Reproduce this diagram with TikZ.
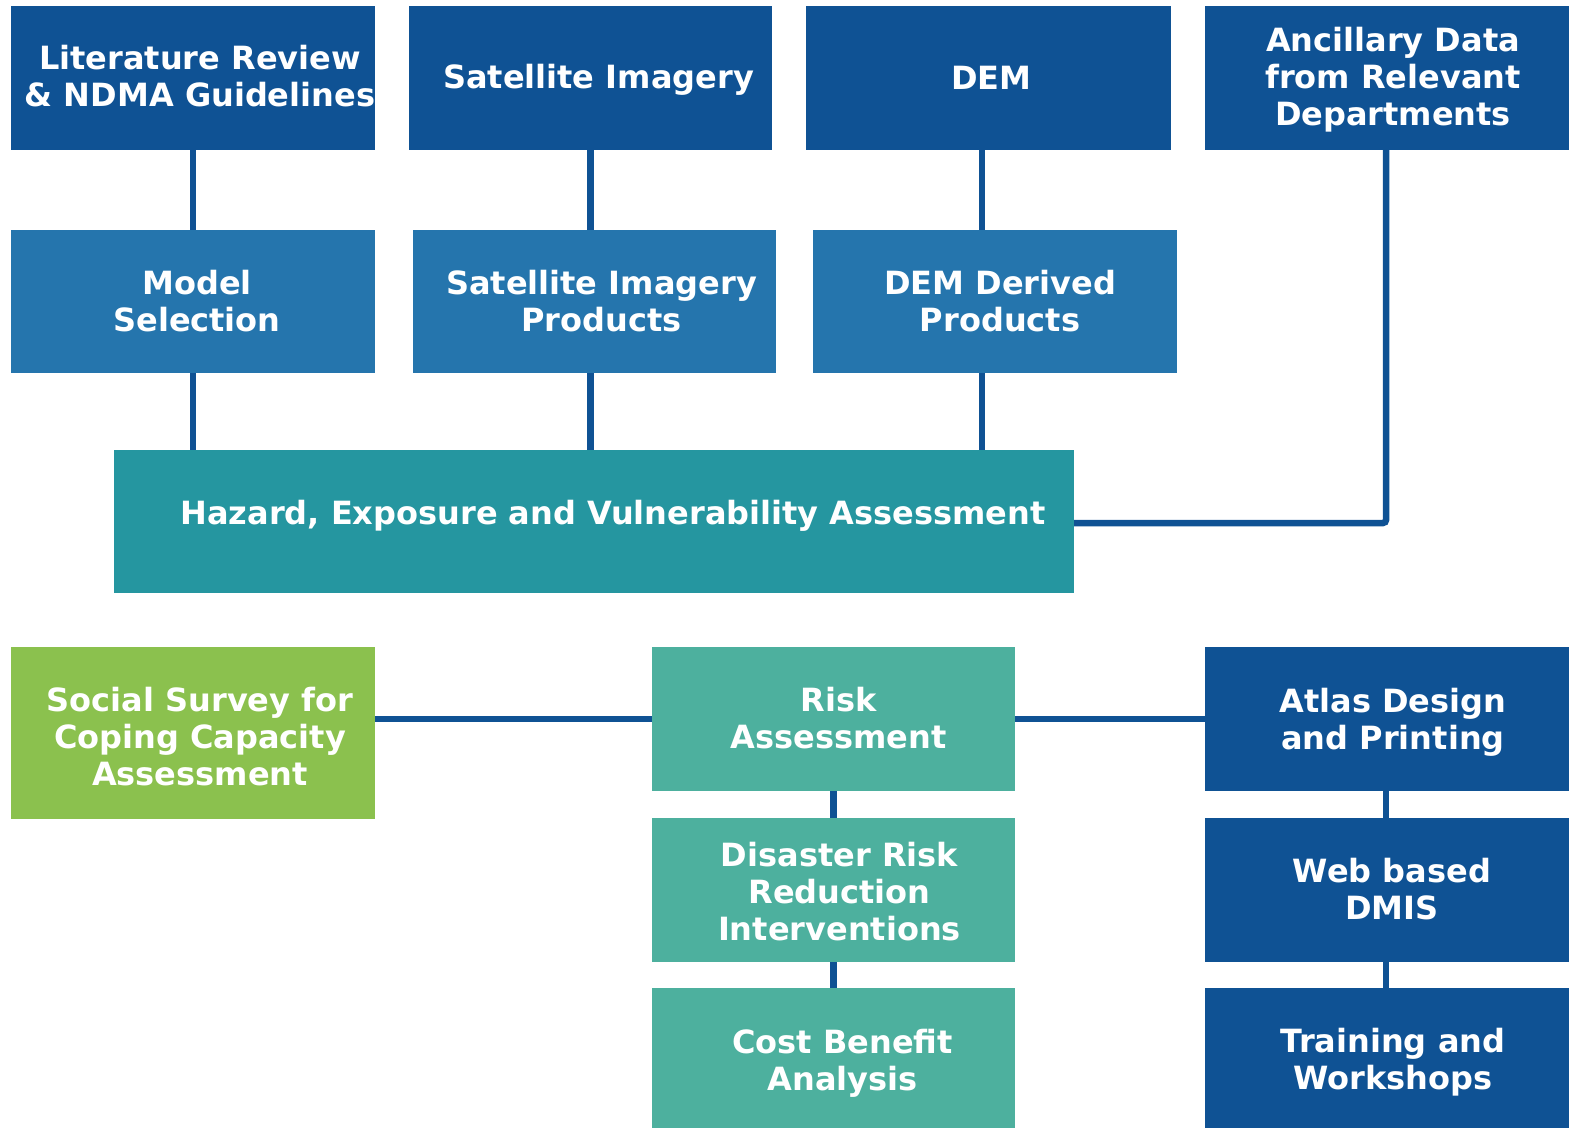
\documentclass[tikz,border=0pt]{standalone}
\usepackage{fontspec}
\setmainfont{DejaVu Sans}
\usetikzlibrary{calc}
\definecolor{navy}{HTML}{0F5294}
\definecolor{midblue}{HTML}{2575AD}
\definecolor{teal}{HTML}{2596A0}
\definecolor{seagreen}{HTML}{4DB09E}
\definecolor{leaf}{HTML}{8BC14E}
\begin{document}
\begin{tikzpicture}[x=1pt,y=-1pt,
  box/.style={inner sep=0pt, outer sep=0pt, minimum width=#1},
  box/.default=364pt,
  txt/.style={inner sep=0pt, align=center, text=white,
    font=\fontsize{32}{37}\selectfont\bfseries},
  link/.style={draw=navy, line width=6.5pt, line cap=butt}]
\useasboundingbox (0,0) rectangle (1569,1128);

% inputs
\node[box, fill=navy, minimum height=144pt] (lit) at (193,78) {};
\node[box=363pt, fill=navy, minimum height=144pt] (sat) at (590.5,78) {};
\node[box=365pt, fill=navy, minimum height=144pt] (dem) at (988.5,78) {};
\node[box, fill=navy, minimum height=144pt] (anc) at (1387,78) {};

% derived products
\node[box, fill=midblue, minimum height=143pt] (model) at (193,301.5) {};
\node[box=363pt, fill=midblue, minimum height=143pt] (satp) at (594.5,301.5) {};
\node[box, fill=midblue, minimum height=143pt] (demp) at (995,301.5) {};

% assessment
\node[box=960pt, fill=teal, minimum height=143pt] (hev) at (594,521.5) {};

% outputs
\node[box, fill=leaf, minimum height=172pt] (soc) at (193,733) {};
\node[box=363pt, fill=seagreen, minimum height=144pt] (risk) at (833.5,719) {};
\node[box=363pt, fill=seagreen, minimum height=144pt] (drr) at (833.5,890) {};
\node[box=363pt, fill=seagreen, minimum height=140pt] (cba) at (833.5,1058) {};
\node[box, fill=navy, minimum height=144pt] (atlas) at (1387,719) {};
\node[box, fill=navy, minimum height=144pt] (web) at (1387,890) {};
\node[box, fill=navy, minimum height=140pt] (train) at (1387,1058) {};

% box captions
\node[txt] (lit-t) at ([shift={(7,-2)}]lit) {Literature Review\\\& NDMA Guidelines};
\node[txt] (sat-t) at ([shift={(8,2)}]sat) {Satellite Imagery};
\node[txt] (dem-t) at ([shift={(3,0)}]dem) {DEM};
\node[txt] (anc-t) at ([shift={(6,2)}]anc) {Ancillary Data\\from Relevant\\Departments};
\node[txt] (model-t) at ([shift={(4,0)}]model) {Model\\Selection};
\node[txt] (satp-t) at ([shift={(7,0)}]satp) {Satellite Imagery\\Products};
\node[txt] (demp-t) at ([shift={(5,0)}]demp) {DEM Derived\\Products};
\node[txt] (hev-t) at ([shift={(19,-6)}]hev) {Hazard, Exposure and Vulnerability Assessment};
\node[txt] (soc-t) at ([shift={(7,4)}]soc) {Social Survey for\\Coping Capacity\\Assessment};
\node[txt] (risk-t) at ([shift={(5,-1)}]risk) {Risk\\Assessment};
\node[txt] (drr-t) at ([shift={(6,2)}]drr) {Disaster Risk\\Reduction\\Interventions};
\node[txt] (cba-t) at ([shift={(9,5)}]cba) {Cost Benefit\\Analysis};
\node[txt] (atlas-t) at ([shift={(6,3)}]atlas) {Atlas Design\\and Printing};
\node[txt] (web-t) at ([shift={(5,-1)}]web) {Web based\\DMIS};
\node[txt] (train-t) at ([shift={(6,4)}]train) {Training and\\Workshops};

% connectors
\draw[link] (lit.south) -- (model.north);
\draw[link] (model.south) -- (model.south |- hev.north);
\draw[link] (sat.south) -- (sat.south |- satp.north);
\draw[link] (sat.south |- satp.south) -- (sat.south |- hev.north);
\draw[link] ([xshift=-6.5pt]dem.south) -- ([xshift=-6.5pt]dem.south |- demp.north);
\draw[link] ([xshift=-6.5pt]dem.south |- demp.south) -- ([xshift=-6.5pt]dem.south |- hev.north);
\draw[link, rounded corners=3pt] ([xshift=-1pt]anc.south) |- ([yshift=-1.5pt]hev.east);
\draw[link] (soc.east |- risk.west) -- (risk.west);
\draw[link] (risk.east) -- (atlas.west);
\draw[link] (risk.south) -- (drr.north);
\draw[link] (drr.south) -- (cba.north);
\draw[link] ([xshift=-1pt]atlas.south) -- ([xshift=-1pt]web.north);
\draw[link] ([xshift=-1pt]web.south) -- ([xshift=-1pt]train.north);
\end{tikzpicture}
\end{document}
